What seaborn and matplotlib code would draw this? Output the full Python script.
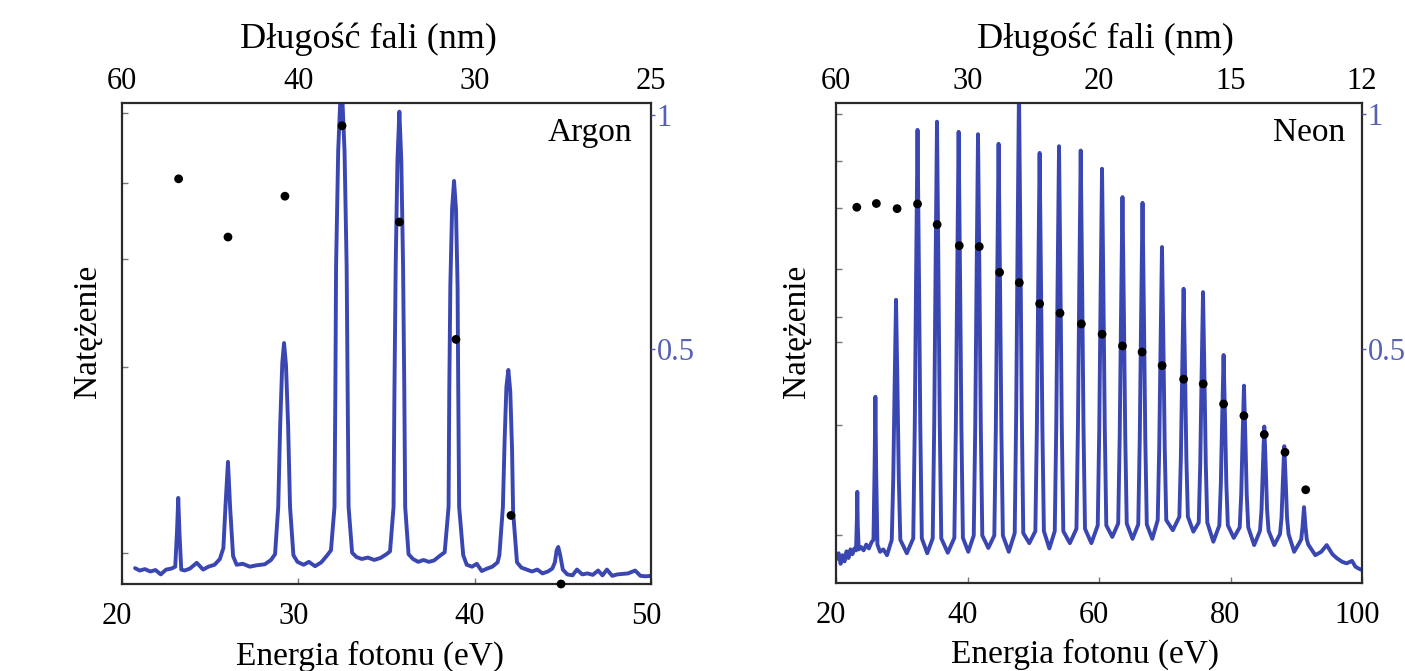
import matplotlib
matplotlib.use("Agg")
import matplotlib.pyplot as plt
import matplotlib.transforms as mtransforms
import seaborn as sns

# ---------------- data ----------------
# Argon spectrum: photon energy (eV) and normalised intensity
ARGON_E = [
    20.74, 21.00, 21.30, 21.60, 21.90, 22.20, 22.50, 22.80,
    23.02, 23.12, 23.19, 23.26, 23.36,
    23.55, 23.85, 24.24, 24.60, 24.90, 25.25, 25.55,
    25.75, 25.88, 26.01, 26.13, 26.30,
    26.50, 26.85, 27.25, 27.65, 28.10, 28.45,
    28.68, 28.86, 28.97, 29.09, 29.19, 29.30, 29.42, 29.53, 29.72,
    29.95, 30.30, 30.60, 30.95, 31.30, 31.60,
    31.85, 32.05, 32.10, 32.14, 32.26, 32.44, 32.62, 32.74, 32.80, 32.85, 33.05,
    33.30, 33.60, 33.95, 34.30, 34.65, 35.00,
    35.20, 35.40, 35.45, 35.52, 35.62, 35.73, 35.84, 35.94, 36.01, 36.06, 36.25,
    36.50, 36.80, 37.10, 37.40, 37.70, 38.00,
    38.30, 38.52, 38.56, 38.62, 38.72, 38.83, 38.94, 39.03, 39.07, 39.12, 39.35,
    39.55, 39.85, 40.12, 40.40, 40.70, 41.00, 41.30,
    41.40, 41.60, 41.70, 41.80, 41.91, 42.02, 42.12, 42.18, 42.40,
    42.65, 42.95, 43.25, 43.55, 43.85, 44.15, 44.40,
    44.55, 44.65, 44.74, 44.85, 45.00,
    45.25, 45.55, 45.80, 46.10, 46.40, 46.70, 47.00, 47.25, 47.50, 47.80,
    48.10, 48.40, 48.70, 49.10, 49.40, 49.70, 50.00,
]
ARGON_I = [
    0.033, 0.028, 0.031, 0.026, 0.029, 0.020, 0.030, 0.032,
    0.036, 0.110, 0.179, 0.105, 0.030,
    0.028, 0.032, 0.044, 0.030, 0.036, 0.040, 0.052,
    0.075, 0.170, 0.254, 0.160, 0.058,
    0.040, 0.042, 0.036, 0.039, 0.041, 0.050,
    0.062, 0.160, 0.330, 0.460, 0.501, 0.455, 0.330, 0.160, 0.060,
    0.046, 0.040, 0.046, 0.037, 0.045, 0.058,
    0.070, 0.160, 0.400, 0.660, 0.900, 1.060, 0.900, 0.660, 0.400, 0.160, 0.065,
    0.056, 0.052, 0.055, 0.050, 0.054, 0.062,
    0.068, 0.160, 0.400, 0.660, 0.880, 0.982, 0.880, 0.660, 0.400, 0.160, 0.062,
    0.052, 0.046, 0.050, 0.046, 0.049, 0.058,
    0.066, 0.160, 0.400, 0.620, 0.780, 0.838, 0.780, 0.620, 0.400, 0.160, 0.060,
    0.040, 0.036, 0.042, 0.027, 0.032, 0.036, 0.045,
    0.060, 0.160, 0.300, 0.410, 0.445, 0.400, 0.280, 0.150, 0.045,
    0.034, 0.030, 0.026, 0.030, 0.022, 0.026, 0.032,
    0.045, 0.070, 0.077, 0.060, 0.030,
    0.020, 0.018, 0.030, 0.020, 0.022, 0.019, 0.028, 0.018, 0.030, 0.017,
    0.020, 0.021, 0.022, 0.028, 0.017, 0.016, 0.017,
]
ARGON_DOT_E = [23.21, 26.01, 29.24, 32.48, 35.73, 38.94, 42.06, 44.90]
ARGON_DOT_V = [0.863, 0.739, 0.826, 0.976, 0.771, 0.521, 0.146, 0.0]

# Neon spectrum
NEON_E = [
    20.10, 20.40, 20.70, 21.00, 21.30, 21.60, 21.90, 22.20, 22.50, 22.80,
    23.05, 23.17, 23.24, 23.31, 23.45,
    23.80, 24.20, 24.60, 25.00, 25.40,
    25.70, 25.88, 25.99, 26.10, 26.30,
    26.70, 27.20, 27.76,
    28.48, 28.71, 28.91, 29.13, 29.35, 29.55, 29.78, 30.77,
    31.75, 31.98, 32.18, 32.40, 32.62, 32.82, 33.05, 33.88,
    34.71, 34.94, 35.14, 35.36, 35.58, 35.78, 36.01, 37.00,
    38.00, 38.23, 38.43, 38.65, 38.87, 39.07, 39.30, 40.12,
    40.95, 41.18, 41.38, 41.60, 41.82, 42.02, 42.25, 43.17,
    44.08, 44.31, 44.51, 44.73, 44.95, 45.15, 45.38, 46.28,
    47.18, 47.41, 47.61, 47.83, 48.05, 48.25, 48.48, 49.40,
    50.32, 50.55, 50.75, 50.97, 51.19, 51.39, 51.62, 52.45,
    53.27, 53.50, 53.70, 53.92, 54.14, 54.34, 54.57, 55.57,
    56.57, 56.80, 57.00, 57.22, 57.44, 57.64, 57.87, 58.84,
    59.81, 60.04, 60.24, 60.46, 60.68, 60.88, 61.11, 62.02,
    62.92, 63.15, 63.35, 63.57, 63.79, 63.99, 64.22, 65.10,
    65.97, 66.20, 66.40, 66.62, 66.84, 67.04, 67.27, 68.10,
    68.93, 69.16, 69.36, 69.58, 69.80, 70.00, 70.23, 71.23,
    72.22, 72.45, 72.65, 72.87, 73.09, 73.29, 73.52, 74.35,
    75.17, 75.40, 75.60, 75.82, 76.04, 76.24, 76.47, 77.39,
    78.30, 78.53, 78.73, 78.95, 79.17, 79.37, 79.60, 80.50,
    81.40, 81.63, 81.83, 82.05, 82.27, 82.47, 82.70, 83.60,
    84.49, 84.72, 84.92, 85.14, 85.36, 85.56, 85.79, 86.66,
    87.53, 87.76, 87.96, 88.18, 88.40, 88.60, 88.83, 89.68,
    90.53, 90.76, 90.96, 91.18, 91.40, 91.60, 91.83, 92.90,
    93.80, 94.63, 95.50,
    96.14, 97.00, 97.67, 98.48, 99.00, 99.50, 100.00,
]
NEON_I = [
    0.050, 0.062, 0.040, 0.058, 0.045, 0.066, 0.052, 0.070, 0.060, 0.072,
    0.068, 0.130, 0.190, 0.120, 0.070,
    0.075, 0.068, 0.080, 0.072, 0.085,
    0.090, 0.250, 0.388, 0.240, 0.080,
    0.065, 0.070, 0.058,
    0.090, 0.219, 0.405, 0.590, 0.405, 0.219, 0.090, 0.062,
    0.093, 0.327, 0.636, 0.944, 0.636, 0.327, 0.093, 0.062,
    0.093, 0.332, 0.647, 0.961, 0.647, 0.332, 0.093, 0.063,
    0.094, 0.327, 0.633, 0.940, 0.633, 0.327, 0.094, 0.065,
    0.099, 0.329, 0.632, 0.935, 0.632, 0.329, 0.099, 0.073,
    0.099, 0.323, 0.619, 0.915, 0.619, 0.323, 0.099, 0.065,
    0.104, 0.361, 0.695, 1.030, 0.695, 0.361, 0.104, 0.083,
    0.108, 0.323, 0.610, 0.896, 0.610, 0.323, 0.108, 0.072,
    0.108, 0.328, 0.619, 0.910, 0.619, 0.328, 0.108, 0.083,
    0.113, 0.328, 0.615, 0.901, 0.615, 0.328, 0.113, 0.083,
    0.120, 0.322, 0.592, 0.863, 0.592, 0.322, 0.120, 0.096,
    0.124, 0.307, 0.556, 0.804, 0.556, 0.307, 0.124, 0.092,
    0.122, 0.302, 0.547, 0.792, 0.547, 0.302, 0.122, 0.092,
    0.131, 0.281, 0.490, 0.700, 0.490, 0.281, 0.131, 0.110,
    0.138, 0.260, 0.436, 0.613, 0.436, 0.260, 0.138, 0.107,
    0.126, 0.249, 0.428, 0.606, 0.428, 0.249, 0.126, 0.086,
    0.120, 0.206, 0.340, 0.475, 0.340, 0.206, 0.120, 0.094,
    0.116, 0.184, 0.297, 0.411, 0.297, 0.184, 0.116, 0.079,
    0.109, 0.153, 0.240, 0.326, 0.240, 0.153, 0.109, 0.079,
    0.102, 0.136, 0.210, 0.285, 0.210, 0.136, 0.102, 0.065,
    0.085, 0.091, 0.118, 0.158, 0.118, 0.091, 0.080, 0.058,
    0.065, 0.079, 0.060,
    0.052, 0.044, 0.041, 0.046, 0.034, 0.030, 0.027,
]
NEON_DOT_E = [23.16, 26.14, 29.29, 32.40, 35.38, 38.75, 41.79, 44.88, 47.88,
              50.97, 54.07, 57.32, 60.47, 63.57, 66.55, 69.60, 72.87, 75.85,
              78.95, 82.04, 85.14, 88.29, 91.44]
NEON_DOT_V = [0.802, 0.810, 0.799, 0.809, 0.765, 0.720, 0.718, 0.663, 0.641,
              0.596, 0.576, 0.553, 0.531, 0.506, 0.493, 0.464, 0.435, 0.425,
              0.382, 0.357, 0.317, 0.279, 0.199]

# axis ticks / labels
ARGON_X_TICKS = [20, 30, 40, 50]
NEON_X_TICKS = [20, 40, 60, 80, 100]
ARGON_WL_LABELS = ["60", "40", "30", "25"]
NEON_WL_LABELS = ["60", "30", "20", "15", "12"]
RIGHT_TICKS = [0.5, 1.0]
RIGHT_TICK_LABELS = ["0.5", "1"]
ARGON_Y_TICKS = [0.979, 0.834, 0.676, 0.451, 0.064]
NEON_Y_TICKS = [0.977, 0.879, 0.781, 0.654, 0.554, 0.502, 0.329, 0.100]

XLABEL = "Energia fotonu (eV)"
TOPLABEL = "Długość fali (nm)"
YLABEL = "Natężenie"

# ---------------- style ----------------
sns.set_style("white")
plt.rcParams["font.family"] = ["Liberation Serif", "DejaVu Serif"]
plt.rcParams["text.color"] = "black"
plt.rcParams["axes.labelcolor"] = "black"
plt.rcParams["xtick.labelcolor"] = "black"

BLUE = "#3a46b2"
TICKBLUE = "#5660b4"
SPINE = "#2a2a2a"

W, H = 1405, 671
fig = plt.figure(figsize=(W / 100, H / 100), dpi=100)


def panel(rect, E, I, dotE, dotV, xticks, wl_labels, yticks, name,
          xlab_x, top_x, ylab_x, name_x):
    ax = fig.add_axes(rect)
    sns.lineplot(x=E, y=I, ax=ax, color=BLUE, linewidth=2.8,
                 sort=False, estimator=None)
    ax.set_xlim(xticks[0], xticks[-1])
    ax.set_ylim(0, 1.0)
    ax.set_xticks(xticks)
    ax.set_xticklabels([str(t) for t in xticks])
    ax.set_yticks(yticks)
    ax.set_yticklabels([])
    ax.tick_params(axis="x", direction="in", length=4, width=1, top=True,
                   color="#777777", labelcolor="black", labelsize=22, pad=13)
    ax.tick_params(axis="y", direction="in", length=4, width=1, left=True,
                   right=True, color="#777777", labelleft=False)
    for s in ax.spines.values():
        s.set_color(SPINE)
        s.set_linewidth(1.6)
        s.set_visible(True)
    shift = mtransforms.ScaledTranslation(-5 / 100, 0, fig.dpi_scale_trans)
    for lab in ax.get_xticklabels():
        lab.set_transform(lab.get_transform() + shift)

    ax.set_xlabel(XLABEL, fontsize=24, color="black")
    ax.xaxis.set_label_coords(xlab_x, -0.117)
    ax.set_ylabel(YLABEL, fontsize=24, color="black")
    ax.yaxis.set_label_coords(ylab_x, 0.525)

    ax.text(name_x, 0.969, name, transform=ax.transAxes, ha="right",
            va="top", fontsize=24, color="black")

    # top wavelength axis
    axt = ax.twiny()
    axt.set_xlim(ax.get_xlim())
    axt.set_xticks(xticks)
    axt.set_xticklabels(wl_labels)
    axt.tick_params(axis="x", length=0, labelsize=22, pad=5,
                    labelcolor="black")
    axt.set_xlabel(TOPLABEL, fontsize=26, color="black")
    axt.xaxis.set_label_coords(top_x, 1.114)
    for s in axt.spines.values():
        s.set_visible(False)

    # right axis for the dots
    ax2 = ax.twinx()
    ax2.set_ylim(0, 1.0245)
    sns.scatterplot(x=dotE, y=dotV, ax=ax2, color="black", s=40,
                    edgecolor="none", linewidth=0, clip_on=False, zorder=5)
    ax2.set_yticks(RIGHT_TICKS)
    ax2.set_yticklabels(RIGHT_TICK_LABELS)
    ax2.tick_params(axis="y", direction="out", length=3, width=1,
                    color=TICKBLUE, labelcolor=TICKBLUE, labelsize=22, pad=1)
    for s in ax2.spines.values():
        s.set_visible(False)
    return ax


panel([122 / W, 1 - 584 / H, 529 / W, 481 / H], ARGON_E, ARGON_I,
      ARGON_DOT_E, ARGON_DOT_V, ARGON_X_TICKS, ARGON_WL_LABELS,
      ARGON_Y_TICKS, "Argon", 0.469, 0.465, -0.036, 0.964)
panel([836 / W, 1 - 583 / H, 526 / W, 480 / H], NEON_E, NEON_I,
      NEON_DOT_E, NEON_DOT_V, NEON_X_TICKS, NEON_WL_LABELS,
      NEON_Y_TICKS, "Neon", 0.473, 0.513, -0.046, 0.968)

fig.savefig("out.png", dpi=100)
